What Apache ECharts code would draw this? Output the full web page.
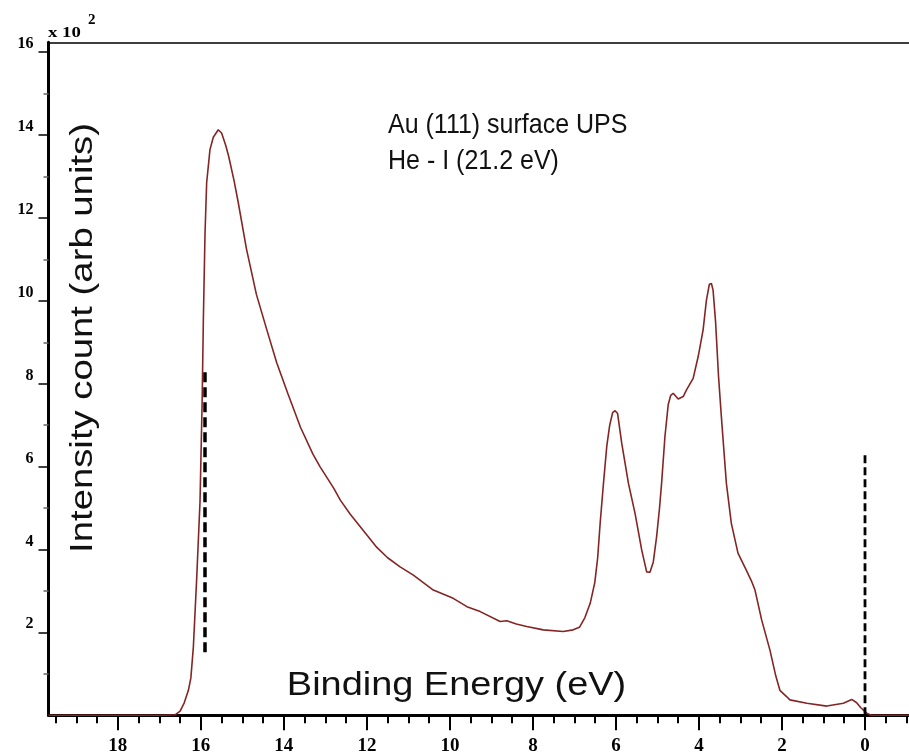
<!DOCTYPE html>
<html>
<head>
<meta charset="utf-8">
<script src="https://cdn.jsdelivr.net/npm/echarts@6/dist/echarts.min.js"></script>
<style>
html,body{margin:0;padding:0;background:#fff;}
#chart{width:909px;height:753px;}
</style>
</head>
<body>
<div id="chart"></div>
<script>
// Binding energy (eV) and intensity counts
const energies = [19.67, 17.5, 16.9, 16.62, 16.5, 16.4, 16.3, 16.24, 16.18, 16.1, 16.02, 15.97, 15.94, 15.9, 15.86, 15.78, 15.7, 15.58, 15.5, 15.4, 15.33, 15.2, 15.1, 14.9, 14.66, 14.41, 14.17, 13.9, 13.6, 13.3, 13.13, 12.8, 12.64, 12.4, 12.0, 11.76, 11.5, 11.2, 10.88, 10.4, 9.92, 9.59, 9.27, 8.79, 8.63, 8.4, 8.15, 7.75, 7.27, 7.03, 6.88, 6.75, 6.62, 6.51, 6.44, 6.38, 6.3, 6.22, 6.15, 6.08, 6.02, 5.96, 5.86, 5.7, 5.54, 5.38, 5.26, 5.18, 5.1, 5.02, 4.95, 4.9, 4.82, 4.74, 4.68, 4.62, 4.5, 4.38, 4.3, 4.14, 4.02, 3.9, 3.82, 3.75, 3.7, 3.66, 3.6, 3.53, 3.46, 3.34, 3.22, 3.06, 2.86, 2.74, 2.65, 2.49, 2.29, 2.15, 2.05, 1.89, 1.81, 1.4, 0.92, 0.52, 0.32, 0.2, 0.1, -0.04, -0.15, -1.06];
const counts = [0, 0, 0, 1, 10, 30, 60, 90, 165, 330, 515, 750, 950, 1160, 1285, 1365, 1395, 1413, 1405, 1375, 1349, 1290, 1238, 1125, 1015, 930, 850, 775, 695, 630, 600, 548, 519, 485, 435, 405, 380, 358, 338, 302, 282, 262, 250, 226, 228, 220, 214, 206, 202, 206, 212, 235, 270, 320, 380, 464, 560, 650, 700, 730, 735, 728, 656, 560, 487, 399, 346, 345, 370, 431, 500, 560, 672, 750, 772, 777, 763, 769, 785, 813, 865, 930, 1002, 1040, 1042, 1026, 950, 820, 720, 560, 463, 391, 350, 325, 302, 230, 157, 95, 60, 45, 37, 29, 22, 29, 38, 30, 18, 5, 0, 0];

// Dashed reference lines (energy, from count, to count)
const dashLeft = {energy: 15.9, from: 152, to: 840};
const dashRight = {energy: 0, from: 0, to: 633};

// Tick values
const xMajorTicks = [0, 2, 4, 6, 8, 10, 12, 14, 16, 18];
const xMinorTicks = [-1, -0.5, 0.5, 1, 1.5, 2.5, 3, 3.5, 4.5, 5, 5.5, 6.5, 7, 7.5, 8.5, 9, 9.5, 10.5, 11, 11.5, 12.5, 13, 13.5, 14.5, 15, 15.5, 16.5, 17, 17.5, 18.5, 19, 19.5];
const yMajorTicks = [200, 400, 600, 800, 1000, 1200, 1400, 1600];
const yMinorTicks = [100, 300, 500, 700, 900, 1100, 1300, 1500];

const X_MIN = -1.06, X_MAX = 19.67, Y_MIN = 0, Y_MAX = 1624;

const chart = echarts.init(document.getElementById('chart'), null, {renderer: 'canvas'});

const curve = energies.map((e, i) => [e, counts[i]]);

const tickFont = {fontFamily: 'Liberation Serif', fontWeight: 'bold', color: '#000'};

const option = {
  animation: false,
  backgroundColor: '#fff',
  grid: {left: 48.5, right: 0, top: 42.3, bottom: 37.8, containLabel: false, outerBoundsMode: 'none'},
  xAxis: [
    {
      type: 'value', inverse: true, min: X_MIN, max: X_MAX, position: 'bottom',
      axisLine: {show: true, onZero: false, lineStyle: {color: '#000', width: 3}},
      axisTick: {show: true, customValues: xMajorTicks, length: 15, lineStyle: {color: '#000', width: 2}},
      axisLabel: {show: true, customValues: xMajorTicks, margin: 21, fontSize: 19, ...tickFont},
      splitLine: {show: false}
    },
    {
      type: 'value', inverse: true, min: X_MIN, max: X_MAX, position: 'bottom', offset: 0,
      axisLine: {show: false, onZero: false},
      axisTick: {show: true, customValues: xMinorTicks, length: 8, lineStyle: {color: '#000', width: 2}},
      axisLabel: {show: false},
      splitLine: {show: false}
    },
    {
      type: 'value', inverse: true, min: X_MIN, max: X_MAX, position: 'top', offset: 0,
      axisLine: {show: true, onZero: false, lineStyle: {color: '#000', width: 1.5}},
      axisTick: {show: false}, axisLabel: {show: false}, splitLine: {show: false}
    }
  ],
  yAxis: [
    {
      type: 'value', min: Y_MIN, max: Y_MAX, position: 'left',
      axisLine: {show: true, onZero: false, lineStyle: {color: '#000', width: 3}},
      axisTick: {show: true, customValues: yMajorTicks, length: 10, lineStyle: {color: '#000', width: 1.5}},
      axisLabel: {show: true, customValues: yMajorTicks, margin: 15, fontSize: 16, verticalAlign: 'bottom',
        formatter: v => String(Math.round(v / 100)), ...tickFont},
      splitLine: {show: false}
    },
    {
      type: 'value', min: Y_MIN, max: Y_MAX, position: 'left', offset: 0,
      axisLine: {show: false, onZero: false},
      axisTick: {show: true, customValues: yMinorTicks, length: 5, lineStyle: {color: '#666', width: 1.5}},
      axisLabel: {show: false}, splitLine: {show: false}
    }
  ],
  series: [
    {
      type: 'line', xAxisIndex: 0, yAxisIndex: 0, data: curve, showSymbol: false, symbol: 'none',
      lineStyle: {color: '#842525', width: 1.6}, z: 3
    },
    {
      type: 'line', xAxisIndex: 0, yAxisIndex: 0, showSymbol: false, symbol: 'none',
      data: [[dashLeft.energy, dashLeft.from], [dashLeft.energy, dashLeft.to]],
      lineStyle: {color: '#000', width: 3.5, type: [10, 5]}, z: 4
    },
    {
      type: 'line', xAxisIndex: 0, yAxisIndex: 0, showSymbol: false, symbol: 'none',
      data: [[dashRight.energy, dashRight.from], [dashRight.energy, dashRight.to]],
      lineStyle: {color: '#000', width: 2.8, type: [8, 4]}, z: 4
    }
  ],
  graphic: [
    {type: 'text', x: 48, y: 33, scaleX: 1.25, style: {text: 'x 10', font: 'bold 15px "Liberation Serif"', fill: '#000', textAlign: 'left', textVerticalAlign: 'middle'}},
    {type: 'text', x: 88, y: 20, style: {text: '2', font: 'bold 15px "Liberation Serif"', fill: '#000', textAlign: 'left', textVerticalAlign: 'middle'}},
    {type: 'text', x: 388, y: 125, scaleY: 1.12, style: {text: 'Au (111) surface UPS', font: '25px "Liberation Sans"', fill: '#111', textAlign: 'left', textVerticalAlign: 'middle'}},
    {type: 'text', x: 388, y: 161, scaleY: 1.12, style: {text: 'He - I (21.2 eV)', font: '25px "Liberation Sans"', fill: '#111', textAlign: 'left', textVerticalAlign: 'middle'}},
    {type: 'text', x: 456.5, y: 686, scaleX: 1.115, style: {text: 'Binding Energy (eV)', font: '34px "Liberation Sans"', fill: '#111', textAlign: 'center', textVerticalAlign: 'middle'}},
    {type: 'text', x: 83, y: 338, rotation: Math.PI / 2, scaleX: 1.235, style: {text: 'Intensity count (arb units)', font: '31px "Liberation Sans"', fill: '#111', textAlign: 'center', textVerticalAlign: 'middle'}}
  ]
};
chart.setOption(option);
</script>
</body>
</html>
